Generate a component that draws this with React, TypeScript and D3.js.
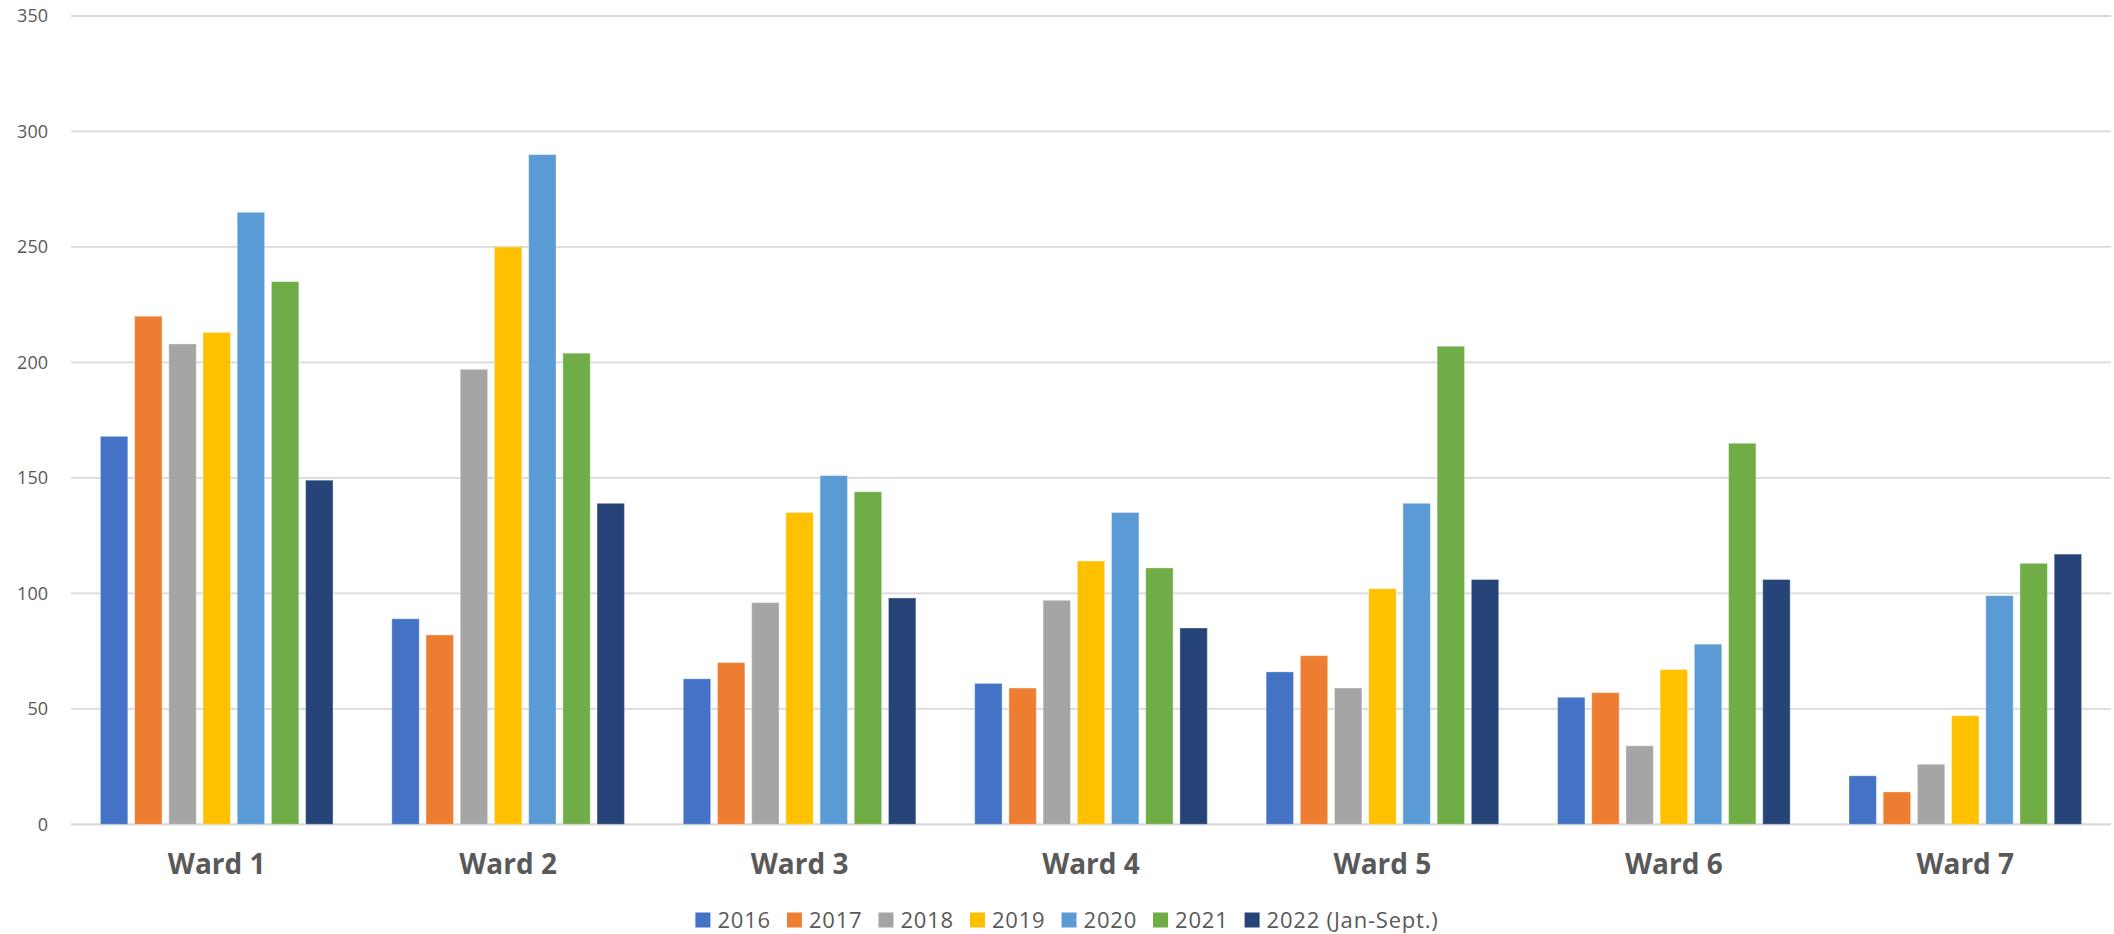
import React, { useEffect, useRef } from "react";
import * as d3 from "d3";

const wards = ["Ward 1", "Ward 2", "Ward 3", "Ward 4", "Ward 5", "Ward 6", "Ward 7"];
const seriesNames = ["2016", "2017", "2018", "2019", "2020", "2021", "2022 (Jan-Sept.)"];
const seriesColors = ["#4472C4", "#ED7D31", "#A5A5A5", "#FFC000", "#5B9BD5", "#70AD47", "#264478"];
const v2016 = [168, 89, 63, 61, 66, 55, 21];
const v2017 = [220, 82, 70, 59, 73, 57, 14];
const v2018 = [208, 197, 96, 97, 59, 34, 26];
const v2019 = [213, 250, 135, 114, 102, 67, 47];
const v2020 = [265, 290, 151, 135, 139, 78, 99];
const v2021 = [235, 204, 144, 111, 207, 165, 113];
const v2022 = [149, 139, 98, 85, 106, 106, 117];
const seriesValues = [v2016, v2017, v2018, v2019, v2020, v2021, v2022];
const yTicks = [0, 50, 100, 150, 200, 250, 300, 350];

const W = 2114;
const H = 934;
const FONT = "'Open Sans', 'DejaVu Sans', sans-serif";

export default function App() {
  const legendRef = useRef<SVGGElement | null>(null);

  const x = d3.scaleBand<string>().domain(wards).range([71, 2111]).padding(0);
  const y = d3.scaleLinear().domain([0, 350]).range([824.3, 16]);
  const x1 = d3
    .scaleBand<string>()
    .domain(seriesNames)
    .range([0, 7 * 34.2])
    .padding(0);
  const barW = 27.4;

  useEffect(() => {
    const g = d3.select(legendRef.current);
    g.selectAll("*").remove();
    const sq = 15;
    const gapSq = 7;
    const gapItem = 16;
    const fs = 22;
    const ls = 0.8;
    let cx = 0;
    const items: { x: number; i: number; tw: number }[] = [];
    seriesNames.forEach((name, i) => {
      const t = g
        .append("text")
        .attr("font-family", FONT)
        .attr("font-size", fs)
        .attr("letter-spacing", ls)
        .attr("fill", "#595959")
        .text(name);
      const tw = (t.node() as SVGTextElement).getComputedTextLength();
      t.remove();
      items.push({ x: cx, i, tw });
      cx += sq + gapSq + tw + gapItem;
    });
    const total = cx - gapItem;
    const start = 1067 - total / 2;
    items.forEach(({ x: ix, i }) => {
      g.append("rect")
        .attr("x", start + ix)
        .attr("y", 912.5)
        .attr("width", sq)
        .attr("height", sq)
        .attr("fill", seriesColors[i]);
      g.append("text")
        .attr("x", start + ix + sq + gapSq)
        .attr("y", 927.5)
        .attr("font-family", FONT)
        .attr("font-size", fs)
        .attr("letter-spacing", ls)
        .attr("fill", "#595959")
        .text(seriesNames[i]);
    });
  }, []);

  return (
    <svg
      width={W}
      height={H}
      style={{ position: "fixed", left: 0, top: 0, background: "#ffffff" }}
    >
      <rect x={0} y={0} width={W} height={H} fill="#ffffff" />
      {yTicks.map((t) => (
        <g key={t}>
          <line
            x1={71}
            x2={2111}
            y1={y(t)}
            y2={y(t)}
            stroke="#d9d9d9"
            strokeWidth={t === 0 ? 2.2 : 1.8}
          />
          <text
            x={48}
            y={y(t)}
            dy="0.35em"
            textAnchor="end"
            fontFamily={FONT}
            fontSize={18}
            fill="#595959"
          >
            {t}
          </text>
        </g>
      ))}
      {wards.map((w, wi) => {
        const gx = (x(w) as number) + x.bandwidth() / 2 - (7 * 34.2) / 2;
        return (
          <g key={w}>
            {seriesNames.map((s, si) => {
              const v = seriesValues[si][wi];
              const bx = gx + (x1(s) as number) + (x1.bandwidth() - barW) / 2;
              return (
                <rect
                  key={s}
                  x={bx}
                  y={y(v)}
                  width={barW}
                  height={y(0) - y(v)}
                  fill={seriesColors[si]}
                  stroke="#ffffff"
                  strokeOpacity={0.35}
                  strokeWidth={1}
                />
              );
            })}
            <text
              x={(x(w) as number) + x.bandwidth() / 2}
              y={874}
              textAnchor="middle"
              fontFamily={FONT}
              fontWeight={700}
              fontSize={28}
              fill="#595959"
            >
              {w}
            </text>
          </g>
        );
      })}
      <g ref={legendRef} />
    </svg>
  );
}
